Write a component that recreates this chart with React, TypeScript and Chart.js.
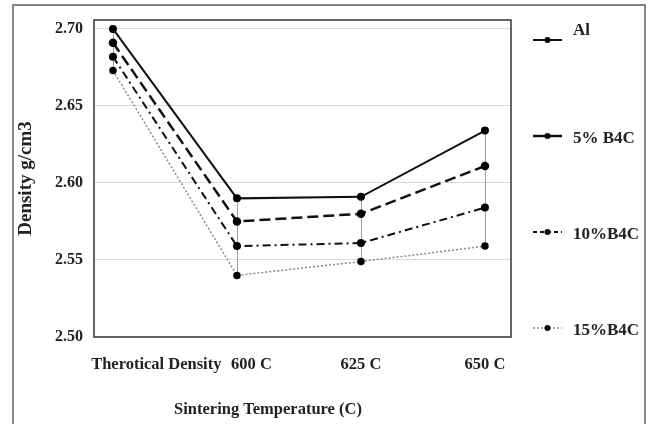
import React, { useEffect, useRef } from 'react';
import { Chart, registerables } from 'chart.js';

Chart.register(...registerables);

const categories = ['Therotical Density', '600 C', '625 C', '650 C'];
const seriesNames = ['Al', '5% B4C', '10%B4C', '15%B4C'];
const alValues = [2.7, 2.59, 2.591, 2.634];
const b4c5Values = [2.691, 2.575, 2.58, 2.611];
const b4c10Values = [2.682, 2.559, 2.561, 2.584];
const b4c15Values = [2.673, 2.54, 2.549, 2.559];
const yTicks = [2.5, 2.55, 2.6, 2.65, 2.7];
const xTitle = 'Sintering Temperature (C)';
const yTitle = 'Density g/cm3';

const FONT = "'Liberation Serif', 'Times New Roman', serif";

const legendDash: number[][] = [[], [], [4, 3], [2, 2]];

const decorPlugin = {
  id: 'decor',
  beforeDatasetsDraw(chart: any) {
    const { ctx, scales } = chart;
    const x = scales.x;
    const y = scales.y;
    ctx.save();
    ctx.strokeStyle = '#a0a0a0';
    ctx.lineWidth = 1;
    categories.forEach((_, i) => {
      const vals = chart.data.datasets.map((d: any) => d.data[i].y);
      const px = Math.round(x.getPixelForValue(i)) + 0.5;
      ctx.beginPath();
      ctx.moveTo(px, y.getPixelForValue(Math.max(...vals)));
      ctx.lineTo(px, y.getPixelForValue(Math.min(...vals)));
      ctx.stroke();
    });
    ctx.restore();
  },
  afterDraw(chart: any) {
    const { ctx, chartArea } = chart;
    ctx.save();
    // plot box
    ctx.strokeStyle = '#333';
    ctx.lineWidth = 1.5;
    ctx.strokeRect(chartArea.left, chartArea.top, chartArea.right - chartArea.left, chartArea.bottom - chartArea.top);
    // outer border
    ctx.strokeStyle = '#5e5e5e';
    ctx.lineWidth = 1.5;
    ctx.strokeRect(13, 5, 632, 430);
    // x title
    ctx.fillStyle = '#222';
    ctx.font = `bold 16.5px ${FONT}`;
    ctx.textAlign = 'center';
    ctx.textBaseline = 'middle';
    ctx.fillText(xTitle, chartArea.left + 174, chartArea.bottom + 73);
    // legend
    chart.data.datasets.forEach((ds: any, i: number) => {
      const ly = chartArea.top + 20 + i * 96;
      const x0 = chartArea.right + 22;
      const x1 = x0 + 29;
      ctx.save();
      ctx.strokeStyle = ds.borderColor;
      ctx.lineWidth = ds.borderWidth;
      ctx.setLineDash(legendDash[i]);
      ctx.beginPath();
      ctx.moveTo(x0, ly);
      ctx.lineTo(x1, ly);
      ctx.stroke();
      ctx.setLineDash([]);
      ctx.fillStyle = '#000';
      ctx.beginPath();
      ctx.arc((x0 + x1) / 2, ly, 3, 0, Math.PI * 2);
      ctx.fill();
      ctx.restore();
      ctx.fillStyle = '#222';
      ctx.font = `bold 17px ${FONT}`;
      ctx.textAlign = 'left';
      ctx.textBaseline = 'middle';
      ctx.fillText(seriesNames[i], x1 + 11, i === 0 ? ly - 9 : ly + 3);
    });
    ctx.restore();
  },
};

export default function App() {
  const ref = useRef<HTMLCanvasElement | null>(null);

  useEffect(() => {
    if (!ref.current) return;
    const mk = (vals: number[]) => vals.map((v, i) => ({ x: i, y: v }));
    const chart = new Chart(ref.current, {
      type: 'line',
      data: {
        datasets: [
          {
            label: seriesNames[0],
            data: mk(alValues),
            borderColor: '#111',
            borderWidth: 2,
            pointRadius: 3,
            pointBackgroundColor: '#000',
            pointBorderColor: '#000',
          },
          {
            label: seriesNames[1],
            data: mk(b4c5Values),
            borderColor: '#111',
            borderWidth: 2.5,
            borderDash: [11, 5],
            pointRadius: 3,
            pointBackgroundColor: '#000',
            pointBorderColor: '#000',
          },
          {
            label: seriesNames[2],
            data: mk(b4c10Values),
            borderColor: '#111',
            borderWidth: 2,
            borderDash: [8, 4, 2, 4],
            pointRadius: 3,
            pointBackgroundColor: '#000',
            pointBorderColor: '#000',
          },
          {
            label: seriesNames[3],
            data: mk(b4c15Values),
            borderColor: '#8a8a8a',
            borderWidth: 1.5,
            borderDash: [2, 2],
            pointRadius: 3,
            pointBackgroundColor: '#000',
            pointBorderColor: '#000',
          },
        ],
      } as any,
      options: {
        animation: false,
        responsive: false,
        layout: { padding: { left: 0, top: 20, right: 141, bottom: 0 } },
        plugins: { legend: { display: false }, tooltip: { enabled: false } },
        scales: {
          x: {
            type: 'linear',
            min: -0.153,
            max: 3.21,
            grid: { display: false, drawTicks: false },
            border: { display: false },
            afterBuildTicks: (s: any) => {
              s.ticks = categories.map((_, i) => ({ value: i }));
            },
            afterFit: (s: any) => {
              s.height = 87;
              s.paddingLeft = 0;
              s.paddingRight = 0;
            },
            ticks: {
              autoSkip: false,
              maxRotation: 0,
              padding: 18,
              color: '#222',
              font: { family: FONT, size: 16.5, weight: 'bold' },
              callback: (v: any) => {
                const i = Math.round(Number(v));
                const lbl = categories[i];
                if (i === 0) return ' '.repeat(21) + lbl;
                if (i === 1) return ' '.repeat(7) + lbl;
                return lbl;
              },
            },
          },
          y: {
            type: 'linear',
            min: 2.5,
            max: 2.7058,
            grid: {
              drawTicks: false,
              color: (c: any) => (c.tick && Math.abs(c.tick.value - 2.5) < 1e-6 ? 'rgba(0,0,0,0)' : '#d9d9d9'),
              lineWidth: 1,
            },
            border: { display: false },
            afterBuildTicks: (s: any) => {
              s.ticks = yTicks.map((v) => ({ value: v }));
            },
            afterFit: (s: any) => {
              s.width = 94;
              s.paddingTop = 0;
              s.paddingBottom = 0;
            },
            ticks: {
              padding: 11,
              color: '#222',
              font: { family: FONT, size: 16, weight: 'bold' },
              callback: (v: any) => Number(v).toFixed(2),
            },
            title: {
              display: true,
              text: yTitle,
              color: '#222',
              font: { family: FONT, size: 19, weight: 'bold' },
              padding: { top: 15, bottom: 0 },
            },
          },
        },
      } as any,
      plugins: [decorPlugin],
    });
    return () => chart.destroy();
  }, []);

  return (
    <div style={{ position: 'absolute', left: 0, top: 0, width: 652, height: 424, background: '#fff' }}>
      <canvas ref={ref} width={652} height={424} style={{ display: 'block' }} />
    </div>
  );
}
